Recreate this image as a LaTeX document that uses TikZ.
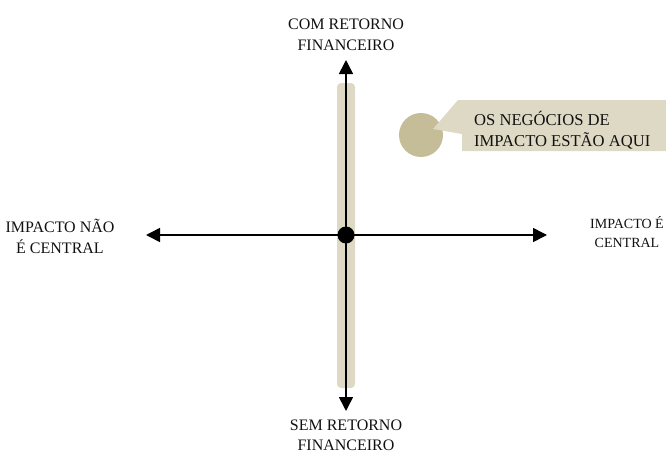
\documentclass[tikz,border=0pt]{standalone}
\usepackage{fontspec}
\setmainfont{Liberation Serif}
\usetikzlibrary{arrows.meta}
\definecolor{band}{HTML}{DDD9C4}
\definecolor{dotc}{HTML}{C4BD97}
\definecolor{txt}{HTML}{111111}
\tikzset{
  axis/.style={line width=1.6pt, {Triangle[length=14pt,width=14pt]}-{Triangle[length=14pt,width=14pt]}},
  lbl/.style={align=center, font=\fontsize{16}{21}\selectfont, text=txt, inner sep=0pt},
  lblsmall/.style={align=center, font=\fontsize{14}{19}\selectfont, text=txt, inner sep=0pt},
}
\begin{document}
\begin{tikzpicture}[x=1pt,y=-1pt]
\useasboundingbox (0,0) rectangle (666,455);
% band
\fill[band, rounded corners=4pt] (337,83) rectangle (355,388);
% callout
\fill[dotc] (421,135) circle (22);
\fill[band] (458,100) -- (666,100) -- (666,151) -- (462,151) -- (462,134) -- (433,129) -- cycle;
\node[anchor=west, align=left, font=\fontsize{16.6}{21}\selectfont, text=txt, inner sep=0pt] (call) at (474,130) {OS NEGÓCIOS DE\\IMPACTO ESTÃO AQUI};
% axes
\coordinate (top) at (346,60);
\coordinate (bot) at (346,411);
\coordinate (lft) at (146,235);
\coordinate (rgt) at (547,235);
\draw[axis] (top) -- (bot);
\draw[axis] (lft) -- (rgt);
\node[circle, fill=black, minimum size=17pt, inner sep=0pt] (c) at (346,235) {};
% labels
\node[lbl] (n) at (346,35) {COM RETORNO\\FINANCEIRO};
\node[lbl, anchor=north, font=\fontsize{16}{20}\selectfont] (s) at (346,420) {SEM RETORNO\\FINANCEIRO};
\node[lbl] (w) at (60,236) {IMPACTO NÃO\\É CENTRAL};
\node[lblsmall] (e) at (627,232) {IMPACTO É\\CENTRAL};
\end{tikzpicture}
\end{document}
